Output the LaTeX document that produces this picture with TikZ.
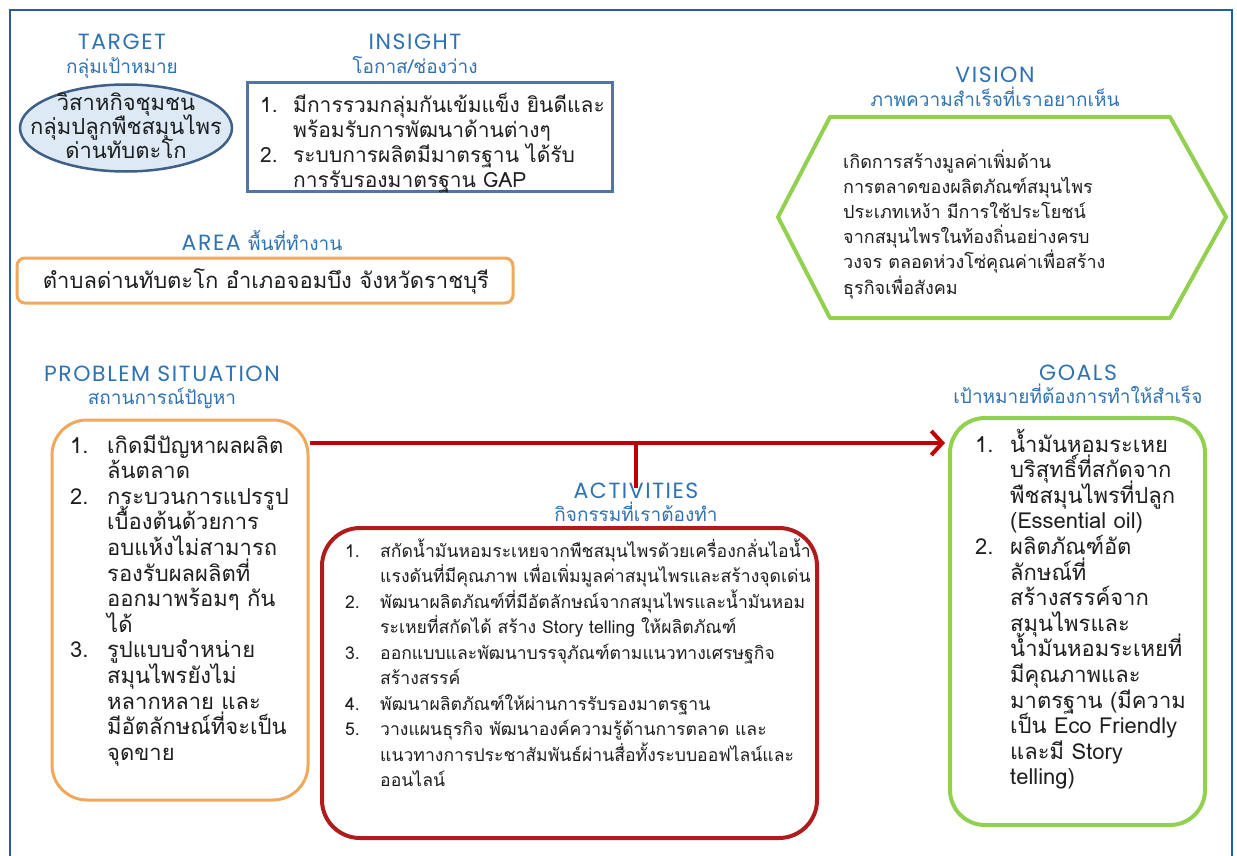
\documentclass[tikz,border=0pt]{standalone}
\usepackage{fontspec}
\usetikzlibrary{arrows.meta,shapes.geometric}
\newfontfamily\thai[Script=Thai]{Loma}
\newfontfamily\entitle[LetterSpace=7]{Poppins}
\definecolor{frameblue}{RGB}{31,95,170}
\definecolor{titleblue}{RGB}{47,114,178}
\definecolor{ellfill}{RGB}{221,234,246}
\definecolor{elldraw}{RGB}{62,95,135}
\definecolor{insblue}{RGB}{79,118,168}
\definecolor{orangeb}{RGB}{240,169,91}
\definecolor{greenb}{RGB}{146,208,80}
\definecolor{redb}{RGB}{176,28,28}
\definecolor{arrred}{RGB}{192,0,0}
\definecolor{bodytext}{RGB}{30,30,30}
\newdimen\numw
% fixed-spacing line stack
\newcommand\Lines[2]{\vtop{\baselineskip=#1\lineskiplimit=-100pt\lineskip=0pt\relax #2}}
\newcommand\NL[2]{\hbox{\hbox to \numw{#1\hss}#2}}
\newcommand\CL[1]{\hbox{\hbox to \numw{\hss}#1}}
\newcommand\ML[1]{\hbox to 0pt{\hss #1\hss}}
\newcommand\TT[2]{\Lines{23.5pt}{\ML{\entitle\fontsize{22}{23}\selectfont #1}\ML{\thai\fontsize{19}{23}\selectfont #2}}}
\begin{document}
\begin{tikzpicture}[x=1pt,y=-1pt,
  title/.style={inner sep=0pt,anchor=base,text=titleblue},
  body/.style={inner sep=0pt,anchor=base west,text=bodytext},
  bodyc/.style={inner sep=0pt,anchor=base,text=bodytext},
  boxbase/.style={inner sep=0pt,draw},
  probbox/.style={boxbase,draw=orangeb,line width=3pt,rounded corners=35pt},
  actbox/.style={boxbase,draw=redb,line width=4pt,rounded corners=38pt},
  goalbox/.style={boxbase,draw=greenb,line width=4pt,rounded corners=35pt},
  areabox/.style={boxbase,draw=orangeb,line width=3pt,rounded corners=8pt},
  insbox/.style={boxbase,draw=insblue,line width=3pt},
  ellbox/.style={ellipse,boxbase,draw=elldraw,fill=ellfill,line width=2.5pt},
  redarrow/.style={draw=arrred,line width=4pt},
]
\useasboundingbox (0,0) rectangle (1237,856);
% frame
\draw[frameblue,line width=2.5pt] (10,860) -- (10,10) -- (1232,10) -- (1232,860);

% TARGET
\node[title] (ttarget) at (122,50) {\TT{TARGET}{กลุ่มเป้าหมาย}};
\node[ellbox,minimum width=212pt,minimum height=87pt] (target) at (126,128) {};
\node[bodyc] (targettext) at (126,111) {\thai\fontsize{22}{24}\selectfont\Lines{24pt}{\ML{วิสาหกิจชุมชน}\ML{กลุ่มปลูกพืชสมุนไพร}\ML{ด่านทับตะโก}}};

% INSIGHT
\node[title] (tinsight) at (415,50) {\TT{INSIGHT}{โอกาส/ช่องว่าง}};
\node[insbox,minimum width=365pt,minimum height=108pt] (insight) at (429.5,137) {};
\node[body] (insighttext) at (260,113) {\thai\fontsize{21}{25}\selectfont\numw=33pt\Lines{25pt}{\NL{1.}{มีการรวมกลุ่มกันเข้มแข็ง ยินดีและ}\CL{พร้อมรับการพัฒนาด้านต่างๆ}\NL{2.}{ระบบการผลิตมีมาตรฐาน ได้รับ}\CL{การรับรองมาตรฐาน GAP}}};

% AREA
\node[title] (tarea) at (262,250) {\entitle\fontsize{22}{23}\selectfont AREA \thai\fontsize{19}{23}\selectfont พื้นที่ทำงาน};
\node[areabox,minimum width=496pt,minimum height=45pt] (area) at (265,280.5) {};
\node[bodyc] (areatext) at (266,288) {\thai\fontsize{22}{24}\selectfont ตำบลด่านทับตะโก อำเภอจอมบึง จังหวัดราชบุรี};

% VISION
\node[title] (tvision) at (995,83) {\TT{VISION}{ภาพความสำเร็จที่เราอยากเห็น}};
\draw[greenb,line width=4pt,line join=round] (830,117) -- (1170,117) -- (1226,217) -- (1170,318) -- (830,318) -- (778,217) -- cycle;
\node[body] (visiontext) at (843,168) {\thai\fontsize{18}{25.2}\selectfont\Lines{25.2pt}{\hbox{เกิดการสร้างมูลค่าเพิ่มด้าน}\hbox{การตลาดของผลิตภัณฑ์สมุนไพร}\hbox{ประเภทเหง้า มีการใช้ประโยชน์}\hbox{จากสมุนไพรในท้องถิ่นอย่างครบ}\hbox{วงจร ตลอดห่วงโซ่คุณค่าเพื่อสร้าง}\hbox{ธุรกิจเพื่อสังคม}}};

% PROBLEM
\node[title] (tprob) at (162,381) {\TT{PROBLEM SITUATION}{สถานการณ์ปัญหา}};
\node[probbox,minimum width=256pt,minimum height=380pt] (prob) at (180,610) {};
\node[body] (probtext) at (70,453) {\thai\fontsize{22}{25.6}\selectfont\numw=37pt\Lines{25.6pt}{\NL{1.}{เกิดมีปัญหาผลผลิต}\CL{ล้นตลาด}\NL{2.}{กระบวนการแปรรูป}\CL{เบื้องต้นด้วยการ}\CL{อบแห้งไม่สามารถ}\CL{รองรับผลผลิตที่}\CL{ออกมาพร้อมๆ กัน}\CL{ได้}\NL{3.}{รูปแบบจำหน่าย}\CL{สมุนไพรยังไม่}\CL{หลากหลาย และ}\CL{มีอัตลักษณ์ที่จะเป็น}\CL{จุดขาย}}};

% ACTIVITIES
\node[title] (tact) at (636,498) {\TT{ACTIVITIES}{กิจกรรมที่เราต้องทำ}};
\node[actbox,minimum width=495pt,minimum height=310pt] (act) at (569.5,683) {};
\node[body] (acttext) at (345,557) {\thai\fontsize{17.6}{25.5}\selectfont\numw=35pt\Lines{25.5pt}{\NL{1.}{สกัดน้ำมันหอมระเหยจากพืชสมุนไพรด้วยเครื่องกลั่นไอน้ำ}\CL{แรงดันที่มีคุณภาพ เพื่อเพิ่มมูลค่าสมุนไพรและสร้างจุดเด่น}\NL{2.}{พัฒนาผลิตภัณฑ์ที่มีอัตลักษณ์จากสมุนไพรและน้ำมันหอม}\CL{ระเหยที่สกัดได้ สร้าง Story telling ให้ผลิตภัณฑ์}\NL{3.}{ออกแบบและพัฒนาบรรจุภัณฑ์ตามแนวทางเศรษฐกิจ}\CL{สร้างสรรค์}\NL{4.}{พัฒนาผลิตภัณฑ์ให้ผ่านการรับรองมาตรฐาน}\NL{5.}{วางแผนธุรกิจ พัฒนาองค์ความรู้ด้านการตลาด และ}\CL{แนวทางการประชาสัมพันธ์ผ่านสื่อทั้งระบบออฟไลน์และ}\CL{ออนไลน์}}};

% GOALS
\node[title] (tgoal) at (1078,380) {\TT{GOALS}{เป้าหมายที่ต้องการทำให้สำเร็จ}};
\node[goalbox,minimum width=255pt,minimum height=407pt] (goal) at (1077.5,621.5) {};
\node[body] (goaltext) at (975,452) {\thai\fontsize{22}{25.6}\selectfont\numw=35pt\Lines{25.6pt}{\NL{1.}{น้ำมันหอมระเหย}\CL{บริสุทธิ์ที่สกัดจาก}\CL{พืชสมุนไพรที่ปลูก}\CL{(Essential oil)}\NL{2.}{ผลิตภัณฑ์อัต}\CL{ลักษณ์ที่}\CL{สร้างสรรค์จาก}\CL{สมุนไพรและ}\CL{น้ำมันหอมระเหยที่}\CL{มีคุณภาพและ}\CL{มาตรฐาน (มีความ}\CL{เป็น Eco Friendly}\CL{และมี Story}\CL{telling)}}};

% connectors
\coordinate (ah) at (0,443);
\draw[redarrow,-{Straight Barb[length=11pt,width=24pt,line width=4pt]},shorten >=3pt] (prob.east |- ah) -- (goal.west |- ah);
\draw[redarrow] (tact.north |- ah) -- ([yshift=-6pt]tact.north);
\end{tikzpicture}
\end{document}
